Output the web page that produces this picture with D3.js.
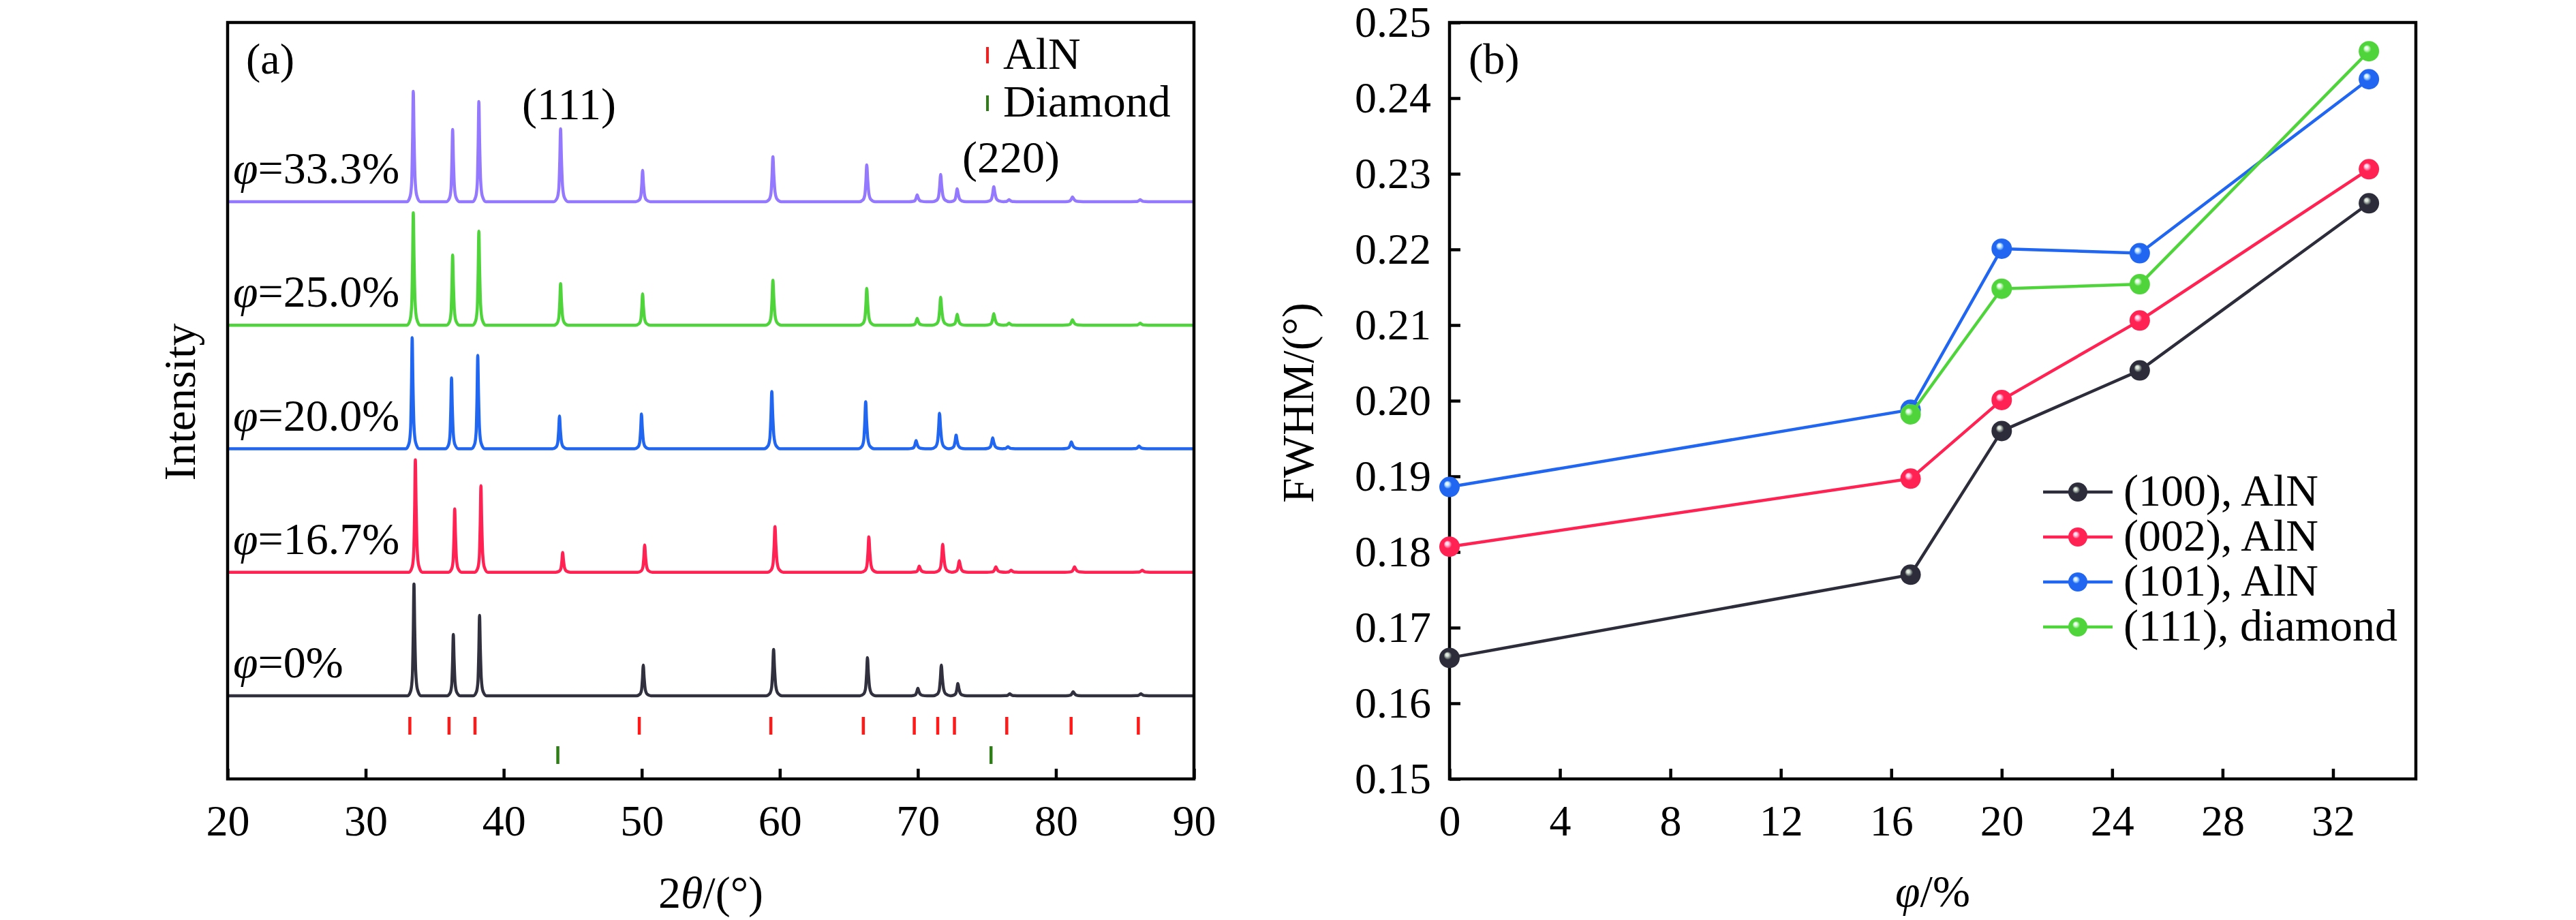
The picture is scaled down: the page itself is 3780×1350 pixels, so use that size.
<!DOCTYPE html>
<html><head><meta charset="utf-8">
<script src="https://cdn.jsdelivr.net/npm/d3@7"></script>
<style>
body{margin:0;background:#fff}
svg text{font-family:"Liberation Serif","Times New Roman","DejaVu Serif",serif;fill:#000}
</style>
</head><body>
<svg id="c" width="3780" height="1350" xmlns="http://www.w3.org/2000/svg"></svg>
<script>
// ---------------- DATA ----------------
// Panel (a): XRD patterns
const sampleLabels = ["0%", "16.7%", "20.0%", "25.0%", "33.3%"];
const traceOffset = [0, 1000, 2000, 3000, 4000];           // stacking offsets (a.u.)
const peakShift = [0.05, 0.15, -0.08, 0, 0];                 // per-sample 2θ shift (°)
const peakPos = [33.45, 36.3, 38.2, 44.12, 50.06, 59.5, 66.3, 69.95, 71.65, 72.85, 75.5, 76.6, 81.2, 86.1];
const peakBroad = [0.9, 0.9, 0.9, 1.0, 1.0, 1.1, 1.1, 1.2, 1.2, 1.2, 1.3, 1.3, 1.4, 1.4];
const int0   = [905, 497, 651,   0, 248, 375, 309, 61, 248,  99,   0, 17, 33, 17];
const int167 = [910, 513, 701, 160, 221, 370, 287, 50, 226,  94,  44, 17, 44, 17];
const int200 = [899, 574, 756, 265, 281, 463, 381, 66, 287, 110,  88, 17, 55, 22];
const int250 = [910, 568, 761, 337, 254, 364, 298, 55, 226,  88,  94, 17, 44, 17];
const int333 = [894, 585, 811, 590, 254, 364, 298, 55, 221, 105, 121, 17, 39, 17];
const intensities = [int0, int167, int200, int250, int333];
// peak profile (Δ2θ in °, fraction of peak height)
const peakProfile = [[-0.5,0],[-0.25,0.05],[-0.13,0.18],[-0.06,0.55],[0,1],[0.06,0.6],[0.14,0.22],[0.27,0.06],[0.55,0]];
const alnRef = [33.2, 36.04, 37.92, 49.82, 59.35, 66.05, 69.74, 71.44, 72.65, 76.44, 81.1, 85.97];
const diamondRef = [43.92, 75.3];
const xTicksA = [20, 30, 40, 50, 60, 70, 80, 90];

// Panel (b): FWHM
const phi = [0, 16.7, 20, 25, 33.3];
const fwhm100 = [0.1660, 0.1770, 0.1960, 0.2040, 0.2261];
const fwhm002 = [0.1807, 0.1897, 0.2001, 0.2106, 0.2306];
const fwhm101 = [0.1886, 0.1988, 0.2201, 0.2195, 0.2425];
const fwhm111 = [null,   0.1982, 0.2148, 0.2154, 0.2462];
const seriesNames = ["(100), AlN", "(002), AlN", "(101), AlN", "(111), diamond"];
const seriesValues = [fwhm100, fwhm002, fwhm101, fwhm111];
const xTicksB = [0, 4, 8, 12, 16, 20, 24, 28, 32];
const yTicksB = [0.15, 0.16, 0.17, 0.18, 0.19, 0.20, 0.21, 0.22, 0.23, 0.24, 0.25];

// ---------------- STYLE ----------------
const traceColors = ["#30303f", "#ff2252", "#2166f0", "#4fd43b", "#9479ff"];
const seriesColors = ["#2c2c3a", "#ff2252", "#2166f0", "#4fd43b"];
const hiColors = [["#e0e8e0", "#8c9690"], ["#ffe0ee", "#ff8cb4"], ["#e6f4ff", "#8cc4ff"], ["#effff0", "#a8f0a0"]];
const FONT = '"Liberation Serif","Times New Roman",serif';
const SW = 4.5;

const svg = d3.select("#c");
svg.append("rect").attr("width", 3780).attr("height", 1350).attr("fill", "#fff");

const defs = svg.append("defs");
seriesColors.forEach((c, i) => {
  const g = defs.append("radialGradient").attr("id", "sph" + i)
    .attr("cx", 0.5).attr("cy", 0.5).attr("r", 0.5).attr("fx", 0.36).attr("fy", 0.32);
  g.append("stop").attr("offset", 0).attr("stop-color", hiColors[i][0]);
  g.append("stop").attr("offset", 0.13).attr("stop-color", hiColors[i][0]);
  g.append("stop").attr("offset", 0.26).attr("stop-color", hiColors[i][1]);
  g.append("stop").attr("offset", 0.40).attr("stop-color", c);
  g.append("stop").attr("offset", 1).attr("stop-color", c);
});

function styleAxis(g, fs) {
  g.select(".domain").remove();
  g.selectAll(".tick line").attr("stroke", "#000").attr("stroke-width", SW);
  g.selectAll(".tick text").attr("font-size", fs).attr("font-family", FONT).attr("fill", "#000");
}

// ---------------- PANEL (a) ----------------
const A = {l: 334, r: 1752, t: 33, b: 1143};
const xA = d3.scaleLinear().domain([20, 90]).range([A.l, A.r]);
const yA = d3.scaleLinear().domain([-673, 5451]).range([A.b, A.t]);

const lineA = d3.line().x(d => xA(d[0])).y(d => yA(d[1])).curve(d3.curveMonotoneX);

intensities.forEach((ints, s) => {
  const pts = [[20, traceOffset[s]]];
  peakPos.forEach((p, k) => {
    if (ints[k] <= 0) return;
    const c = p + peakShift[s];
    peakProfile.forEach(([dx, f]) => {
      const x = c + dx * peakBroad[k];
      if (x > pts[pts.length - 1][0] + 1e-6) pts.push([x, traceOffset[s] + f * ints[k]]);
    });
  });
  pts.push([90, traceOffset[s]]);
  svg.append("path").datum(pts).attr("d", lineA).attr("fill", "none")
    .attr("stroke", traceColors[s]).attr("stroke-width", SW).attr("stroke-linejoin", "round");
  const t = svg.append("text").attr("x", A.l + 8).attr("y", yA(traceOffset[s]) - 27)
    .attr("font-size", 66);
  t.append("tspan").attr("font-style", "italic").text("φ");
  t.append("tspan").text("=" + sampleLabels[s]);
});

// reference sticks
svg.append("g").selectAll("line").data(alnRef).join("line")
  .attr("x1", d => xA(d)).attr("x2", d => xA(d))
  .attr("y1", A.b - 91).attr("y2", A.b - 65)
  .attr("stroke", "#ff1a1a").attr("stroke-width", 4.5);
svg.append("g").selectAll("line").data(diamondRef).join("line")
  .attr("x1", d => xA(d)).attr("x2", d => xA(d))
  .attr("y1", A.b - 48).attr("y2", A.b - 22)
  .attr("stroke", "#2e7d16").attr("stroke-width", 4.5);

const axA = svg.append("g").attr("transform", `translate(0,${A.b})`)
  .call(d3.axisBottom(xA).tickValues(xTicksA).tickSizeInner(-15).tickSizeOuter(0).tickPadding(38));
styleAxis(axA, 64);
svg.append("rect").attr("x", A.l).attr("y", A.t).attr("width", A.r - A.l).attr("height", A.b - A.t)
  .attr("fill", "none").attr("stroke", "#000").attr("stroke-width", SW);

svg.append("text").attr("x", 361).attr("y", 108).attr("font-size", 64).text("(a)");
svg.append("text").attr("x", 766).attr("y", 175).attr("font-size", 66).text("(111)");
svg.append("text").attr("x", 1412).attr("y", 253).attr("font-size", 66).text("(220)");
// legend (a)
svg.append("line").attr("x1", 1449).attr("x2", 1449).attr("y1", 69).attr("y2", 93)
  .attr("stroke", "#ff1a1a").attr("stroke-width", 4);
svg.append("line").attr("x1", 1449).attr("x2", 1449).attr("y1", 140).attr("y2", 163)
  .attr("stroke", "#2e7d16").attr("stroke-width", 4);
svg.append("text").attr("x", 1472).attr("y", 101).attr("font-size", 66).text("AlN");
svg.append("text").attr("x", 1472).attr("y", 171).attr("font-size", 66).text("Diamond");

svg.append("text").attr("transform", "translate(286,590) rotate(-90)").attr("text-anchor", "middle")
  .attr("font-size", 66).text("Intensity");
const xla = svg.append("text").attr("x", (A.l + A.r) / 2).attr("y", 1332).attr("text-anchor", "middle").attr("font-size", 66);
xla.append("tspan").text("2");
xla.append("tspan").attr("font-style", "italic").text("θ");
xla.append("tspan").text("/(°)");

// ---------------- PANEL (b) ----------------
const B = {l: 2127, r: 3545, t: 33, b: 1143};
const xB = d3.scaleLinear().domain([0, 35]).range([B.l, B.r]);
const yB = d3.scaleLinear().domain([0.15, 0.25]).range([B.b, B.t]);

const axBx = svg.append("g").attr("transform", `translate(0,${B.b})`)
  .call(d3.axisBottom(xB).tickValues(xTicksB).tickSizeInner(-15).tickSizeOuter(0).tickPadding(38));
styleAxis(axBx, 64);
const axBy = svg.append("g").attr("transform", `translate(${B.l},0)`)
  .call(d3.axisLeft(yB).tickValues(yTicksB).tickFormat(d3.format(".2f")).tickSizeInner(-16).tickSizeOuter(0).tickPadding(27));
styleAxis(axBy, 64);
svg.append("rect").attr("x", B.l).attr("y", B.t).attr("width", B.r - B.l).attr("height", B.b - B.t)
  .attr("fill", "none").attr("stroke", "#000").attr("stroke-width", SW);

const lineB = d3.line().defined(d => d[1] != null).x(d => xB(d[0])).y(d => yB(d[1]));
seriesValues.forEach((vals, i) => {
  const pts = phi.map((p, k) => [p, vals[k]]);
  svg.append("path").datum(pts).attr("d", lineB).attr("fill", "none")
    .attr("stroke", seriesColors[i]).attr("stroke-width", SW).attr("stroke-linejoin", "round");
  svg.append("g").selectAll("circle").data(pts.filter(d => d[1] != null)).join("circle")
    .attr("cx", d => xB(d[0])).attr("cy", d => yB(d[1])).attr("r", 15)
    .attr("fill", `url(#sph${i})`);
});

// legend (b)
const legY = [722, 788, 854, 920];
seriesNames.forEach((n, i) => {
  svg.append("line").attr("x1", 2998).attr("x2", 3100).attr("y1", legY[i]).attr("y2", legY[i])
    .attr("stroke", seriesColors[i]).attr("stroke-width", SW);
  svg.append("circle").attr("cx", 3049).attr("cy", legY[i]).attr("r", 14).attr("fill", `url(#sph${i})`);
  svg.append("text").attr("x", 3116).attr("y", legY[i] + 20).attr("font-size", 66).text(n);
});

svg.append("text").attr("x", 2155).attr("y", 108).attr("font-size", 64).text("(b)");
svg.append("text").attr("transform", "translate(1927,591) rotate(-90)").attr("text-anchor", "middle")
  .attr("font-size", 66).text("FWHM/(°)");
const xlb = svg.append("text").attr("x", (B.l + B.r) / 2).attr("y", 1330).attr("text-anchor", "middle").attr("font-size", 66);
xlb.append("tspan").attr("font-style", "italic").text("φ");
xlb.append("tspan").text("/%");
</script>
</body></html>
